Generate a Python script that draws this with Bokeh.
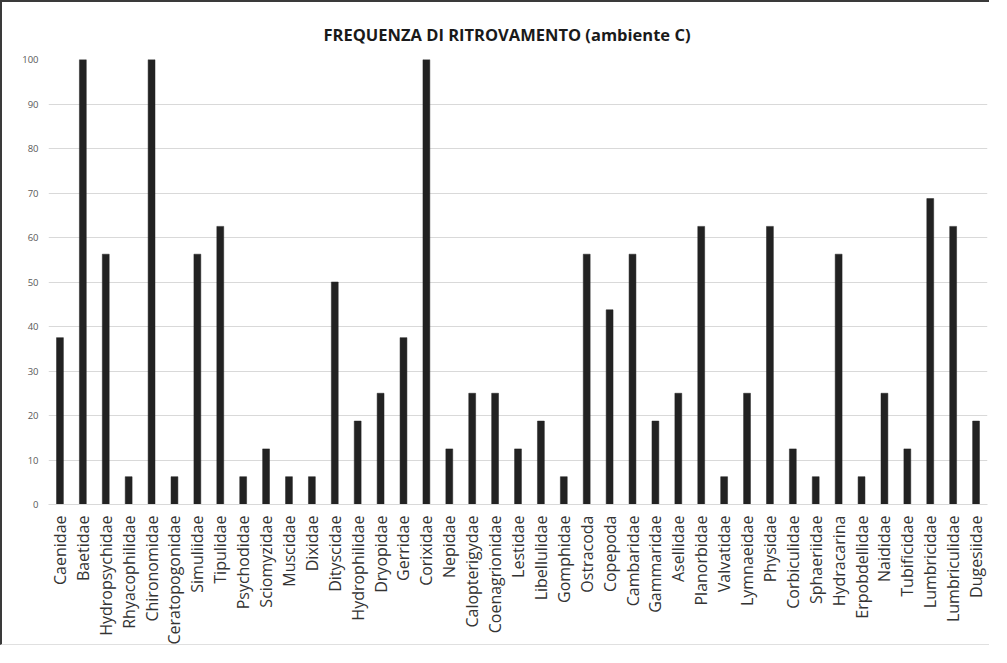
import math
from bokeh.plotting import figure
from bokeh.models import ColumnDataSource, FactorRange, Range1d, SingleIntervalTicker
from bokeh.embed import file_html
from bokeh.resources import INLINE

categories = [
    "Caenidae", "Baetidae", "Hydropsychidae", "Rhyacophilidae", "Chironomidae",
    "Ceratopogonidae", "Simuliidae", "Tipulidae", "Psychodidae", "Sciomyzidae",
    "Muscidae", "Dixidae", "Dityscidae", "Hydrophilidae", "Dryopidae",
    "Gerridae", "Corixidae", "Nepidae", "Calopterigydae", "Coenagrionidae",
    "Lestidae", "Libellulidae", "Gomphidae", "Ostracoda", "Copepoda",
    "Cambaridae", "Gammaridae", "Asellidae", "Planorbidae", "Valvatidae",
    "Lymnaeidae", "Physidae", "Corbiculidae", "Sphaeriidae", "Hydracarina",
    "Erpobdellidae", "Naididae", "Tubificidae", "Lumbricidae", "Lumbriculidae",
    "Dugesiidae",
]
frequenza = [
    37.5, 100, 56.25, 6.25, 100,
    6.25, 56.25, 62.5, 6.25, 12.5,
    6.25, 6.25, 50, 18.75, 25,
    37.5, 100, 12.5, 25, 25,
    12.5, 18.75, 6.25, 56.25, 43.75,
    56.25, 18.75, 25, 62.5, 6.25,
    25, 62.5, 12.5, 6.25, 56.25,
    6.25, 25, 12.5, 68.75, 62.5,
    18.75,
]
y_ticks_step = 10
title_text = "FREQUENZA DI RITROVAMENTO (ambiente C)"

source = ColumnDataSource(data=dict(cat=categories, val=frequenza))

p = figure(
    x_range=FactorRange(*categories, range_padding=0),
    y_range=Range1d(0, 100),
    width=989, height=645,
    output_backend="svg", toolbar_location=None,
    min_border_left=46, min_border_right=4,
    min_border_top=57, min_border_bottom=143,
    title=title_text,
    styles={
        "border-left": "2px solid #3a3a3a",
        "border-top": "2px solid #3a3a3a",
        "border-bottom": "1px solid #e0e0e0",
    },
)

p.vbar(x="cat", top="val", width=0.3, source=source,
       fill_color="#222222", line_color="#222222", line_width=0.5)

p.title.align = "left"
p.title.text_font = "Open Sans"
p.title.text_font_size = "16.5px"
p.title.text_font_style = "bold"
p.title.text_color = "#1a1a1a"
p.title.standoff = 28
p.title.offset = 275

p.outline_line_color = None
p.background_fill_color = "white"
p.border_fill_color = "white"

p.xgrid.grid_line_color = None
p.ygrid.grid_line_color = "#d9d9d9"
p.ygrid.grid_line_width = 1

p.yaxis.ticker = SingleIntervalTicker(interval=y_ticks_step)
p.yaxis.axis_line_color = None
p.yaxis.major_tick_line_color = None
p.yaxis.minor_tick_line_color = None
p.yaxis.major_label_text_font = "Open Sans"
p.yaxis.major_label_text_font_size = "9.5px"
p.yaxis.major_label_text_color = "#595959"
p.yaxis.major_label_standoff = 4

p.xaxis.axis_line_color = "#d9d9d9"
p.xaxis.axis_line_width = 1
p.xaxis.major_tick_line_color = None
p.xaxis.minor_tick_line_color = None
p.xaxis.major_label_orientation = math.pi / 2
p.xaxis.major_label_text_font = "Open Sans"
p.xaxis.major_label_text_font_size = "16px"
p.xaxis.major_label_text_color = "#333333"
p.xaxis.major_label_standoff = 5

open("out.html", "w").write(file_html(p, INLINE))
